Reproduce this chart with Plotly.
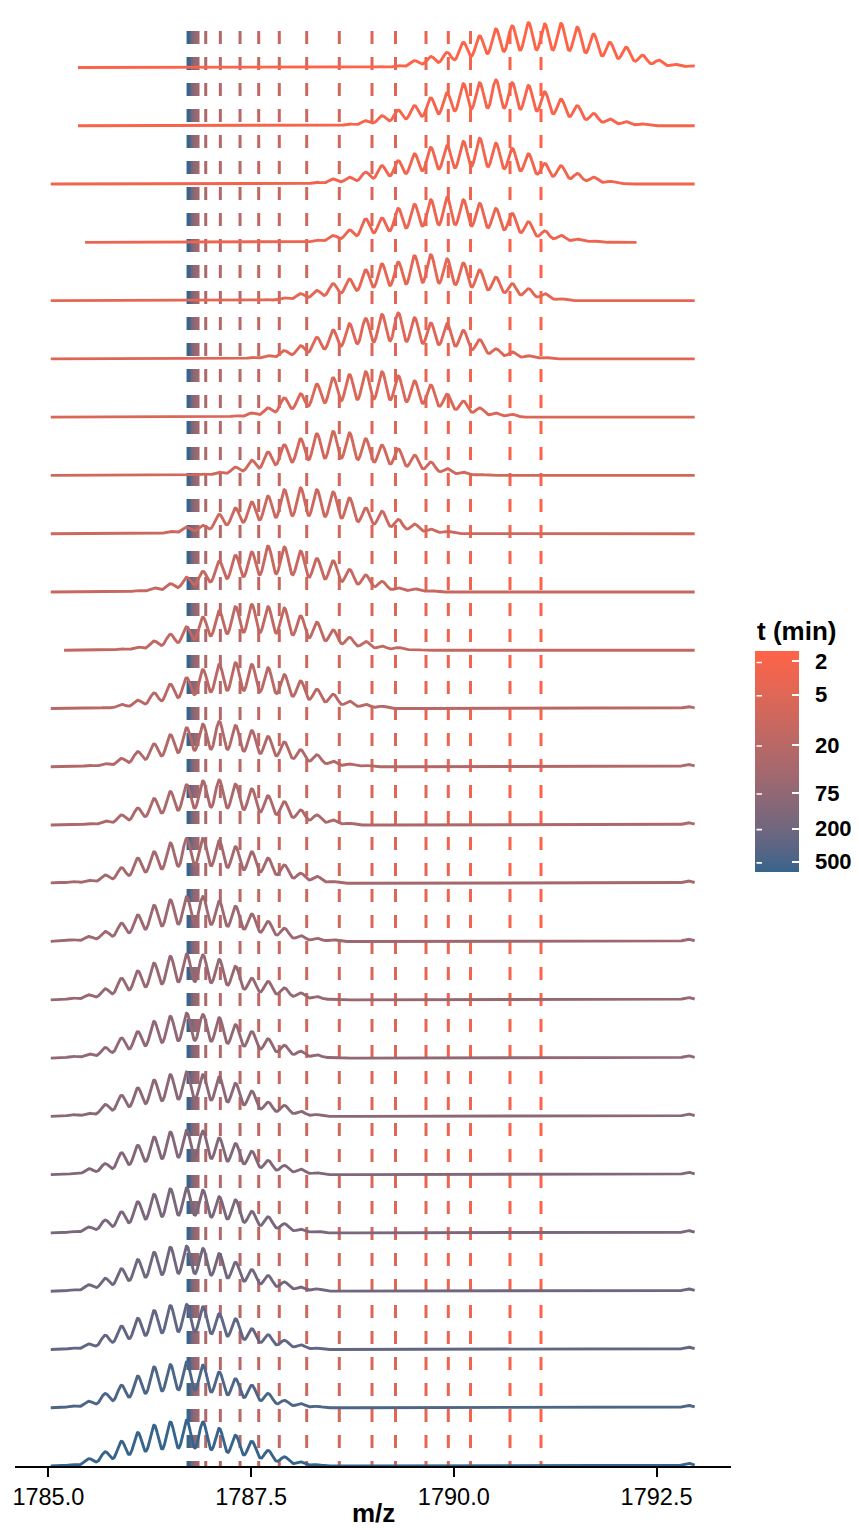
import numpy as np
import plotly.graph_objects as go

# ---------------------------------------------------------------------------
# Data: isotope envelopes (z = 5) of one peptide over exchange time
# ---------------------------------------------------------------------------
# exchange time of each spectrum (min), top ridge first
TIME_MIN = [1.5, 2, 2.5, 3, 4, 5, 6, 8, 10, 12, 15, 20, 25, 30, 40,
            50, 60, 75, 90, 120, 150, 200, 300, 450, 660]

# isotope grid: first isotope m/z and spacing (1.00335 / 5)
MZ_FIRST_ISOTOPE = 1785.101
ISOTOPE_SPACING = 0.2007

# index of the first isotope listed for each spectrum
FIRST_ISOTOPE = [20, 17, 16, 16, 13, 12, 11, 9, 7, 5, 4, 3, 2, 1, 0,
                 0, 1, 1, 1, 1, 1, 1, 1, 1, 1]

# relative isotope intensities (%) of each spectrum
spec_01 = [2, 4, 15, 24, 33, 55, 69, 84, 91, 98, 95, 96, 88, 73, 55, 44, 27, 16, 7, 4]
spec_02 = [1, 4, 11, 22, 34, 44, 61, 72, 92, 94, 100, 94, 88, 74, 58, 44, 27, 15, 9, 4]
spec_03 = [4, 11, 15, 26, 40, 51, 66, 80, 84, 93, 100, 89, 78, 66, 45, 40, 23, 15, 6, 1]
spec_04 = [5, 15, 27, 51, 53, 74, 83, 93, 98, 93, 85, 74, 63, 45, 25, 15, 7, 3]
spec_05 = [2, 6, 15, 22, 37, 47, 67, 80, 84, 98, 100, 91, 82, 67, 51, 37, 26, 15, 4]
spec_06 = [3, 7, 18, 29, 47, 63, 77, 88, 97, 100, 90, 78, 77, 62, 42, 22, 15, 7, 3]
spec_07 = [3, 9, 20, 42, 51, 72, 86, 93, 99, 99, 90, 79, 70, 50, 35, 20, 9, 6]
spec_08 = [3, 7, 18, 33, 51, 67, 80, 91, 96, 93, 80, 66, 58, 44, 29, 15, 7, 2]
spec_09 = [5, 14, 18, 42, 56, 69, 82, 96, 100, 96, 91, 78, 56, 49, 31, 21, 10, 5]
spec_10 = [3, 9, 18, 32, 45, 67, 80, 87, 100, 98, 89, 73, 68, 49, 37, 23, 9, 7, 3]
spec_11 = [3, 7, 20, 35, 51, 72, 86, 95, 100, 95, 92, 75, 61, 44, 28, 19, 9, 6, 2]
spec_12 = [2, 9, 18, 34, 53, 67, 85, 96, 100, 96, 89, 74, 60, 42, 31, 16, 9, 5]
spec_13 = [3, 7, 18, 33, 50, 70, 85, 93, 99, 90, 79, 66, 54, 37, 26, 12, 6, 3]
spec_14 = [1, 3, 9, 22, 37, 58, 73, 88, 96, 98, 89, 79, 64, 51, 33, 22, 11, 4]
spec_15 = [2, 4, 7, 18, 34, 55, 69, 88, 98, 98, 93, 80, 69, 55, 40, 22, 15, 4]
spec_16 = [1, 4, 11, 22, 40, 58, 79, 91, 98, 98, 88, 77, 60, 44, 29, 13, 7, 4]
spec_17 = [4, 11, 24, 47, 63, 80, 95, 100, 98, 88, 73, 47, 40, 26, 15, 7, 2]
spec_18 = [4, 9, 23, 44, 58, 80, 91, 98, 95, 88, 73, 58, 42, 28, 15, 7, 2]
spec_19 = [4, 7, 26, 46, 62, 79, 91, 97, 91, 86, 72, 55, 31, 24, 11, 4]
spec_20 = [2, 13, 24, 48, 64, 82, 93, 97, 95, 80, 68, 51, 31, 20, 12, 4]
spec_21 = [3, 13, 28, 46, 68, 84, 96, 98, 93, 79, 72, 47, 35, 20, 8, 4]
spec_22 = [3, 14, 28, 49, 69, 85, 96, 98, 93, 82, 63, 47, 34, 20, 9, 5]
spec_23 = [3, 12, 31, 51, 68, 85, 96, 98, 93, 78, 67, 45, 32, 20, 10, 3]
spec_24 = [4, 14, 31, 49, 69, 89, 94, 100, 93, 78, 63, 49, 31, 16, 9, 3]
spec_25 = [3, 16, 31, 54, 73, 89, 96, 100, 96, 82, 67, 54, 34, 20, 9, 3]

SPECTRA = [spec_01, spec_02, spec_03, spec_04, spec_05, spec_06, spec_07,
           spec_08, spec_09, spec_10, spec_11, spec_12, spec_13, spec_14,
           spec_15, spec_16, spec_17, spec_18, spec_19, spec_20, spec_21,
           spec_22, spec_23, spec_24, spec_25]

# small background peak at the high-m/z end of the scans (%)
TAIL_MZ = 1792.89
TAIL_INT = [0, 0, 0, 0, 0, 0, 0, 0, 0, 0, 0, 4, 5, 5, 5,
            5, 5, 5, 5, 5, 5, 5, 5, 5, 6]

# acquired m/z window of each spectrum
SCAN_START = [1785.366, 1785.366, 1785.03, 1785.453, 1785.03, 1785.03, 1785.03,
              1785.03, 1785.03, 1785.03, 1785.194, 1785.03, 1785.03, 1785.03,
              1785.03, 1785.03, 1785.03, 1785.03, 1785.03, 1785.03, 1785.03,
              1785.03, 1785.03, 1785.03, 1785.03]
SCAN_END = [1792.974, 1792.974, 1792.974, 1792.255, 1792.974, 1792.974, 1792.974,
            1792.974, 1792.974, 1792.974, 1792.974, 1792.974, 1792.974, 1792.974,
            1792.974, 1792.974, 1792.974, 1792.974, 1792.974, 1792.974, 1792.974,
            1792.974, 1792.974, 1792.974, 1792.974]

# envelope centroid of each spectrum (m/z)
CENTROID_MZ = [1791.075, 1790.693, 1790.206, 1789.932, 1789.657, 1789.281,
               1788.991, 1788.588, 1788.186, 1787.848, 1787.594, 1787.364,
               1787.121, 1786.941, 1786.846, 1786.827, 1786.809, 1786.797,
               1786.784, 1786.772, 1786.760, 1786.753, 1786.741, 1786.735,
               1786.723]

# colour scale
T_LIMITS = [1.5, 660]
CBAR_TICKS = [2, 5, 20, 75, 200, 500]
COLOR_SHORT = "#FF6347"   # early time points
COLOR_LONG = "#36648B"    # late time points

X_TICKS = [1785.0, 1787.5, 1790.0, 1792.5]

# ---------------------------------------------------------------------------
# Layout constants
# ---------------------------------------------------------------------------
W, H = 859, 1530
M_L, M_R, M_T, M_B = 15, 128, 8, 64
PLOT_W = W - M_L - M_R
PLOT_H = H - M_T - M_B
ROW_PX = 58.27                      # vertical distance between ridges
Y_TOP = PLOT_H / ROW_PX
PEAK_SCALE = 45.7 / ROW_PX / 100.0  # ridge units per % intensity
SIGMA = 0.056                       # Gaussian line-shape width (m/z)
VLINE_TOP = (PLOT_H - 23) / ROW_PX
FONT = "Liberation Sans, Arial, Helvetica, sans-serif"

# colour bar box (pixels)
CB_X, CB_TOP, CB_LEN, CB_THICK = 755, 652, 221, 44
CB_Y_SHIFT = 31                     # compensates colour bar placement offset
TICK_LEN = 7

# ---------------------------------------------------------------------------
# Colour handling: linear interpolation in CIELAB on log10(time)
# ---------------------------------------------------------------------------
def hex_to_rgb(h):
    h = h.lstrip("#")
    return [int(h[i:i + 2], 16) for i in (0, 2, 4)]

_XN, _YN, _ZN = 0.95047, 1.0, 1.08883


def rgb_to_lab(rgb):
    def lin(c):
        c = c / 255.0
        return c / 12.92 if c <= 0.04045 else ((c + 0.055) / 1.055) ** 2.4
    r, g, b = (lin(v) for v in rgb)
    X = 0.4124564 * r + 0.3575761 * g + 0.1804375 * b
    Y = 0.2126729 * r + 0.7151522 * g + 0.0721750 * b
    Z = 0.0193339 * r + 0.1191920 * g + 0.9503041 * b

    def f(t):
        return t ** (1 / 3) if t > (6 / 29) ** 3 else t / (3 * (6 / 29) ** 2) + 4 / 29
    fx, fy, fz = f(X / _XN), f(Y / _YN), f(Z / _ZN)
    return (116 * fy - 16, 500 * (fx - fy), 200 * (fy - fz))


def lab_to_hex(lab):
    L, a, b = lab
    fy = (L + 16) / 116
    fx = fy + a / 500
    fz = fy - b / 200

    def finv(t):
        return t ** 3 if t > 6 / 29 else 3 * (6 / 29) ** 2 * (t - 4 / 29)
    X, Y, Z = _XN * finv(fx), _YN * finv(fy), _ZN * finv(fz)
    r = 3.2404542 * X - 1.5371385 * Y - 0.4985314 * Z
    g = -0.9692660 * X + 1.8760108 * Y + 0.0415560 * Z
    bb = 0.0556434 * X - 0.2040259 * Y + 1.0572252 * Z

    def gam(c):
        c = 12.92 * c if c <= 0.0031308 else 1.055 * c ** (1 / 2.4) - 0.055
        return int(round(min(max(c, 0.0), 1.0) * 255))
    return "#%02x%02x%02x" % (gam(r), gam(g), gam(bb))


LAB_LONG = rgb_to_lab(hex_to_rgb(COLOR_LONG))
LAB_SHORT = rgb_to_lab(hex_to_rgb(COLOR_SHORT))
C_TOP = -np.log10(T_LIMITS[0])
C_BOT = -np.log10(T_LIMITS[1])


def ramp(frac):
    """frac 0 -> long-time colour, 1 -> short-time colour"""
    return lab_to_hex(tuple(l0 + (l1 - l0) * frac for l0, l1 in zip(LAB_LONG, LAB_SHORT)))


def time_color(t):
    return ramp((-np.log10(t) - C_BOT) / (C_TOP - C_BOT))


COLORSCALE = [[i / 20, ramp(i / 20)] for i in range(21)]

# ---------------------------------------------------------------------------
# Figure
# ---------------------------------------------------------------------------
fig = go.Figure()
n_rows = len(TIME_MIN)

# centroid markers: dashed vertical lines
for i in range(n_rows):
    fig.add_trace(go.Scatter(
        x=[CENTROID_MZ[i], CENTROID_MZ[i]], y=[VLINE_TOP, 0],
        mode="lines", line=dict(color=time_color(TIME_MIN[i]), width=3, dash="13px,13px"),
        showlegend=False, hoverinfo="skip"))

# profile spectra: isotope sticks broadened with a Gaussian line shape
for i in range(n_rows):
    base = (n_rows - 1 - i) * 1.0
    mz = np.arange(SCAN_START[i], SCAN_END[i], 0.004)
    prof = np.zeros_like(mz)
    for j, a in enumerate(SPECTRA[i]):
        centre = MZ_FIRST_ISOTOPE + (FIRST_ISOTOPE[i] + j) * ISOTOPE_SPACING
        prof += a * np.exp(-0.5 * ((mz - centre) / SIGMA) ** 2)
    if TAIL_INT[i]:
        prof += TAIL_INT[i] * np.exp(-0.5 * ((mz - TAIL_MZ) / SIGMA) ** 2)
    fig.add_trace(go.Scatter(
        x=mz, y=base + prof * PEAK_SCALE, mode="lines",
        line=dict(color=time_color(TIME_MIN[i]), width=2.9),
        showlegend=False, hoverinfo="skip"))

# colour bar (log time, short times on top)
fig.add_trace(go.Scatter(
    x=[None], y=[None], mode="markers", showlegend=False, hoverinfo="skip",
    marker=dict(
        color=[C_TOP], colorscale=COLORSCALE, cmin=C_BOT, cmax=C_TOP, showscale=True,
        colorbar=dict(
            xref="container", yref="container",
            x=CB_X / W, xanchor="left", xpad=0,
            y=1 - (CB_TOP + CB_Y_SHIFT) / H, yanchor="top", ypad=0,
            len=CB_LEN, lenmode="pixels", thickness=CB_THICK, thicknessmode="pixels",
            outlinewidth=0,
            tickvals=[-np.log10(t) for t in CBAR_TICKS],
            ticktext=["\u2002" + str(t) for t in CBAR_TICKS],
            ticks="inside", ticklen=TICK_LEN, tickwidth=1.6, tickcolor="white",
            tickfont=dict(family=FONT, size=22, color="black", weight="bold"),
        ))))

annotations = []
# white tick marks on the left edge of the colour bar
for t in CBAR_TICKS:
    py = CB_TOP + (C_TOP - (-np.log10(t))) / (C_TOP - C_BOT) * CB_LEN
    annotations.append(dict(
        text="", xref="paper", yref="paper",
        x=(CB_X + TICK_LEN - M_L) / PLOT_W, y=(H - M_B - py) / PLOT_H,
        ax=-TICK_LEN, ay=0, showarrow=True, arrowhead=0, arrowwidth=1.6,
        arrowcolor="white", standoff=0, startstandoff=0))

annotations += [
    dict(text="<b>t (min)</b>", xref="paper", yref="paper",
         x=(CB_X - M_L) / PLOT_W, y=(H - M_B - 631) / PLOT_H,
         xanchor="left", yanchor="middle", showarrow=False,
         font=dict(family=FONT, size=26, color="black")),
    dict(text="<b>m/z</b>", xref="paper", yref="paper",
         x=0.5, y=(H - M_B - 1513) / PLOT_H,
         xanchor="center", yanchor="middle", showarrow=False,
         font=dict(family=FONT, size=26, color="black")),
]

fig.update_layout(
    width=W, height=H,
    margin=dict(l=M_L, r=M_R, t=M_T, b=M_B, pad=0),
    paper_bgcolor="white", plot_bgcolor="white",
    font=dict(family=FONT, color="black"),
    annotations=annotations,
    xaxis=dict(
        range=[1784.589, 1793.418], showgrid=False, zeroline=False,
        tickvals=X_TICKS, ticktext=["%.1f" % v for v in X_TICKS],
        ticks="outside", ticklen=9, tickwidth=1.8, tickcolor="black",
        showline=True, linecolor="black", linewidth=2,
        tickfont=dict(family=FONT, size=23.5, color="black"),
    ),
    yaxis=dict(range=[0, Y_TOP], visible=False, fixedrange=True),
)

fig.write_html("out.html")
